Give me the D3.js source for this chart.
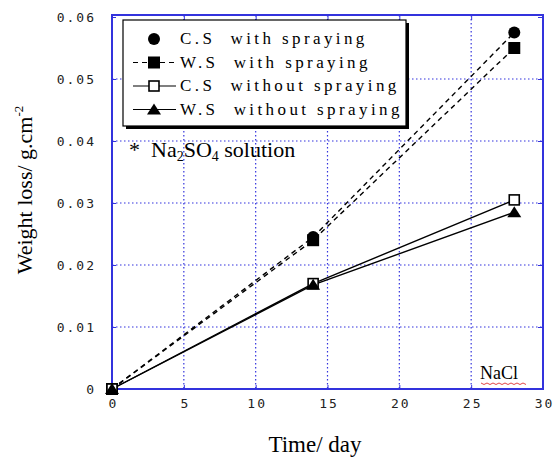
<!DOCTYPE html>
<html>
<head>
<meta charset="utf-8">
<script src="https://cdn.jsdelivr.net/npm/d3@7"></script>
<style>
  body { margin: 0; background: #fff; }
  svg { display: block; }
</style>
</head>
<body>
<div id="chart"></div>
<script>
// data
const days = [0, 14, 28];
const csSpray = [0, 0.0245, 0.0575];
const wsSpray = [0, 0.024, 0.055];
const csNoSpray = [0, 0.017, 0.0305];
const wsNoSpray = [0, 0.0168, 0.0285];
const xTicks = [0, 5, 10, 15, 20, 25, 30];
const yTicks = [0, 0.01, 0.02, 0.03, 0.04, 0.05, 0.06];

const series = [
  {name: "C.S  with spraying", values: csSpray, dash: "5,4", marker: "circle"},
  {name: "W.S  with spraying", values: wsSpray, dash: "5,4", marker: "square"},
  {name: "C.S  without spraying", values: csNoSpray, dash: null, marker: "open"},
  {name: "W.S  without spraying", values: wsNoSpray, dash: null, marker: "triangle"}
];

const W = 553, H = 462;
const margin = {top: 15, left: 112, right: 10, bottom: 73};
const width = W - margin.left - margin.right,
    height = H - margin.top - margin.bottom;

const serif = "'Liberation Serif', 'Times New Roman', serif";

const svg = d3.select("#chart").append("svg")
  .attr("width", W).attr("height", H);

const x = d3.scaleLinear().domain([0, 30]).range([margin.left, margin.left + width]);
const y = d3.scaleLinear().domain([0, 0.06]).range([margin.top + height, margin.top + 2]);

const blue = "#3333dd";

// grid
svg.append("g").selectAll("line")
  .data(xTicks.slice(1, -1)).join("line")
  .attr("x1", d => x(d)).attr("x2", d => x(d))
  .attr("y1", y(0.06) - 2).attr("y2", y(0))
  .attr("stroke", blue).attr("stroke-width", 1.2).attr("stroke-dasharray", "1.5,2.5");
svg.append("g").selectAll("line")
  .data(yTicks.slice(1, -1)).join("line")
  .attr("x1", x(0)).attr("x2", x(30))
  .attr("y1", d => y(d)).attr("y2", d => y(d))
  .attr("stroke", blue).attr("stroke-width", 1.2).attr("stroke-dasharray", "1.5,2.5");

// axes
const fmtY = d => d === 0 ? "0" : d3.format(".2f")(d);
const gx = svg.append("g").attr("transform", `translate(0,${y(0)})`)
  .call(d3.axisBottom(x).tickValues(xTicks).tickSize(-4).tickPadding(10));
const gy = svg.append("g").attr("transform", `translate(${x(0)},0)`)
  .call(d3.axisLeft(y).tickValues(yTicks).tickFormat(fmtY).tickSize(-4).tickPadding(16));
const gt = svg.append("g").attr("transform", `translate(0,${margin.top})`)
  .call(d3.axisTop(x).tickValues(xTicks).tickSize(-5).tickFormat(""));
const gr = svg.append("g").attr("transform", `translate(${x(30)},0)`)
  .call(d3.axisRight(y).tickValues(yTicks).tickSize(-5).tickFormat(""));
[gx, gy, gt, gr].forEach(g => {
  g.select(".domain").remove();
  g.selectAll(".tick line").attr("stroke", blue);
  g.selectAll("text")
    .attr("fill", "#222")
    .attr("font-family", "'DejaVu Sans Mono', monospace")
    .attr("font-size", 13)
    .style("letter-spacing", "2px");
});
gx.selectAll("text").attr("dx", "1");

// frame
svg.append("rect")
  .attr("x", x(0)).attr("y", margin.top)
  .attr("width", x(30) - x(0)).attr("height", y(0) - margin.top)
  .attr("fill", "none").attr("stroke", blue).attr("stroke-width", 2);

// lines
const line = d3.line().x(d => x(d[0])).y(d => y(d[1]));
series.forEach(s => {
  const pts = days.map((d, i) => [d, s.values[i]]);
  svg.append("path")
    .attr("d", line(pts))
    .attr("fill", "none").attr("stroke", "#000")
    .attr("stroke-width", 1.4)
    .attr("stroke-dasharray", s.dash);
});

function drawMarker(g, type, cx, cy) {
  if (type === "circle") {
    g.append("circle").attr("cx", cx).attr("cy", cy).attr("r", 6).attr("fill", "#000");
  } else if (type === "square") {
    g.append("rect").attr("x", cx - 6).attr("y", cy - 6).attr("width", 12).attr("height", 12).attr("fill", "#000");
  } else if (type === "open") {
    g.append("rect").attr("x", cx - 5).attr("y", cy - 5).attr("width", 10).attr("height", 10)
      .attr("fill", "#fff").attr("stroke", "#000").attr("stroke-width", 1.6);
  } else {
    g.append("path")
      .attr("d", `M${cx},${cy - 6}L${cx + 7},${cy + 5}L${cx - 7},${cy + 5}Z`)
      .attr("fill", "#000");
  }
}

// markers
const mg = svg.append("g");
series.forEach(s => {
  days.forEach((d, i) => drawMarker(mg, s.marker, x(d), y(s.values[i])));
});

// legend
const lg = svg.append("g");
lg.append("rect").attr("x", 126).attr("y", 23).attr("width", 283).attr("height", 106).attr("fill", "#000");
lg.append("rect").attr("x", 123).attr("y", 20).attr("width", 283).attr("height", 106)
  .attr("fill", "#fff").attr("stroke", "#000").attr("stroke-width", 1.2);
series.forEach((s, i) => {
  const ly = 39 + i * 23.5;
  if (i > 0) {
    lg.append("line").attr("x1", 133).attr("x2", 176).attr("y1", ly).attr("y2", ly)
      .attr("stroke", "#000").attr("stroke-width", 1.2).attr("stroke-dasharray", s.dash);
  }
  drawMarker(lg, s.marker, 154, ly);
  lg.append("text").attr("x", 180).attr("y", ly + 5)
    .attr("xml:space", "preserve")
    .attr("font-family", serif)
    .attr("font-size", 17)
    .attr("letter-spacing", "3.4px")
    .attr("fill", "#000")
    .text(s.name);
});

// annotations
const note = svg.append("text").attr("x", 129).attr("y", 157)
  .attr("xml:space", "preserve")
  .attr("font-family", serif).attr("font-size", 22).attr("fill", "#000");
note.append("tspan").text("*  Na");
note.append("tspan").text("2").attr("font-size", 14).attr("dy", 4);
note.append("tspan").text("SO").attr("dy", -4);
note.append("tspan").text("4").attr("font-size", 14).attr("dy", 4);
note.append("tspan").text(" solution").attr("dy", -4);

svg.append("text").attr("x", 480).attr("y", 379).text("NaCl")
  .attr("font-family", serif).attr("font-size", 18).attr("fill", "#000");
// red wavy underline
const wave = d3.range(0, 16).map(i => [481 + i * 3, 383 + (i % 2 ? 1.5 : 0)]);
svg.append("path").attr("d", d3.line()(wave)).attr("fill", "none").attr("stroke", "#e03030").attr("stroke-width", 0.9);

// axis titles
svg.append("text").attr("x", 315).attr("y", 452).attr("text-anchor", "middle")
  .text("Time/ day")
  .attr("font-family", serif).attr("font-size", 23);
const yt = svg.append("text").attr("transform", `translate(32,190) rotate(-90)`)
  .attr("text-anchor", "middle")
  .attr("font-family", serif).attr("font-size", 22);
yt.append("tspan").text("Weight loss/ g.cm");
yt.append("tspan").text("-2").attr("font-size", 13).attr("dy", -9);
</script>
</body>
</html>
